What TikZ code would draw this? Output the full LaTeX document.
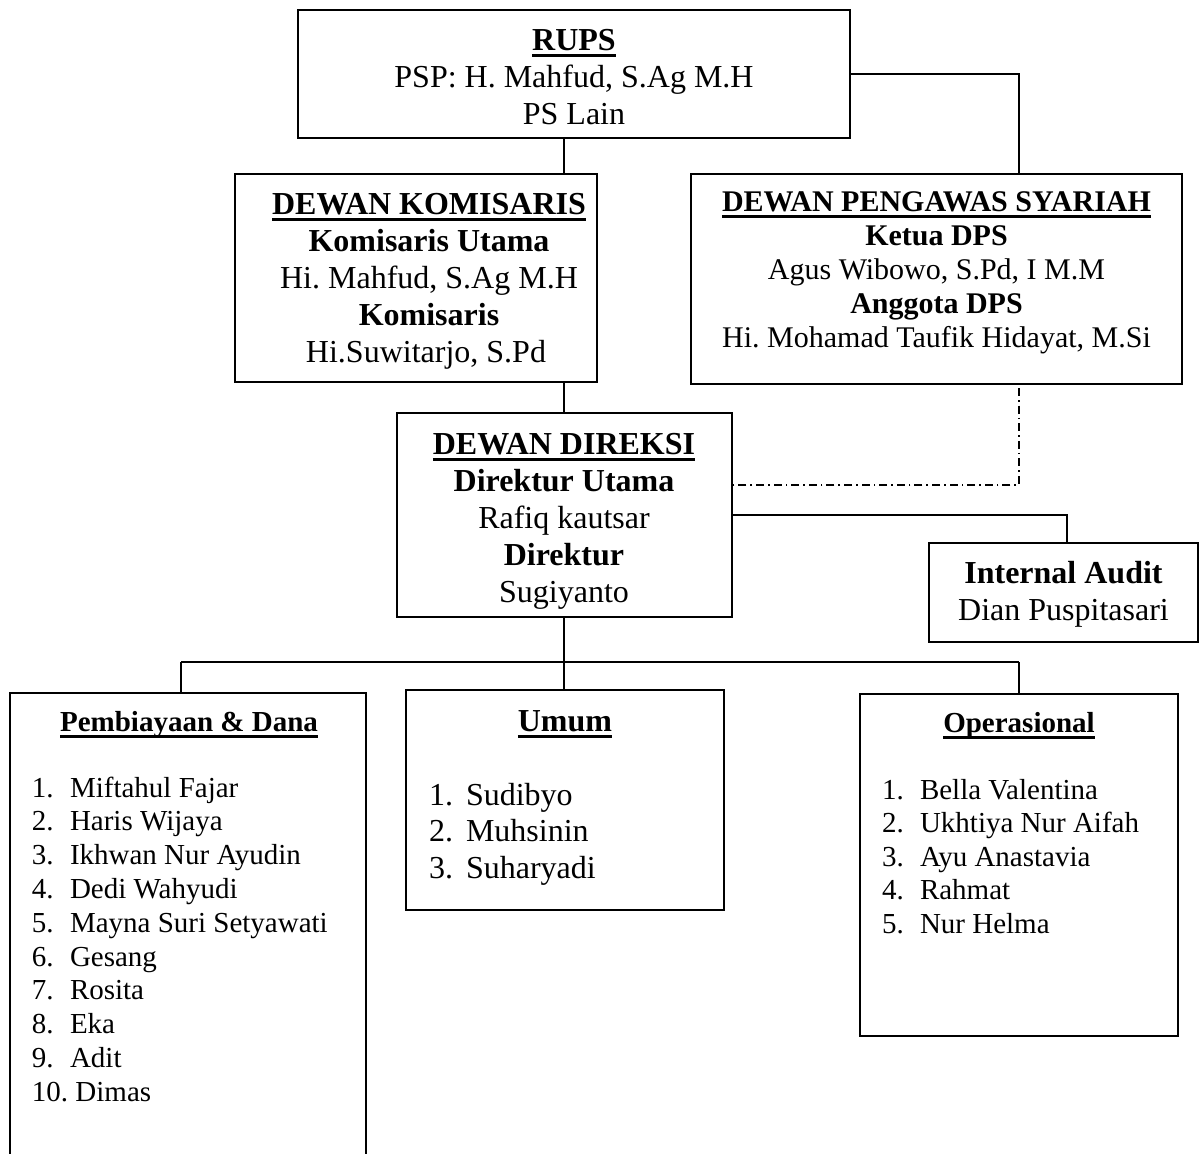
\documentclass[tikz,border=0pt]{standalone}
\usepackage{fontspec}
\setmainfont{Liberation Serif}
\frenchspacing
\newsavebox\ulsave
\newcommand\ulbox[1]{\sbox\ulsave{#1}\rlap{\rule[-3.3pt]{\wd\ulsave}{1.1pt}}\usebox\ulsave}
\begin{document}
\begin{tikzpicture}[x=0.5pt,y=-0.5pt,line width=1pt,
  box/.style={draw,inner sep=0pt,outer sep=0pt},
  openbox/.style={inner sep=0pt,outer sep=0pt},
  big/.style={anchor=base,inner sep=0pt,font=\fontsize{16}{19}\selectfont},
  small/.style={anchor=base,inner sep=0pt,font=\fontsize{15}{18}\selectfont},
  numsmall/.style={anchor=base west,inner sep=0pt,font=\fontsize{14.5}{17}\selectfont},
  numbig/.style={anchor=base west,inner sep=0pt,font=\fontsize{16}{19}\selectfont},
  dashdotline/.style={line width=0.9pt,dash pattern=on 4pt off 2pt on 0.8pt off 2pt}]
\useasboundingbox (0,0) rectangle (1200,1153);

% boxes
\node[box,minimum width=276pt,minimum height=64pt] (rups) at (574,74) {};
\node[box,minimum width=181pt,minimum height=104pt] (dk) at (416,278) {};
\node[box,minimum width=245.5pt,minimum height=105pt] (dps) at (936.5,279) {};
\node[box,minimum width=167.5pt,minimum height=102pt] (dd) at (564,515) {};
\node[box,minimum width=134.5pt,minimum height=49.5pt] (ia) at (1063.5,592.5) {};
\node[openbox,minimum width=178pt,minimum height=233.5pt] (pemb) at (188,926.5) {};
\draw (pemb.south west) -- (pemb.north west) -- (pemb.north east) -- (pemb.south east);
\node[box,minimum width=159pt,minimum height=110pt] (umum) at (564.5,800) {};
\node[box,minimum width=159pt,minimum height=171pt] (ops) at (1019,865) {};

% connectors
\draw (rups.south -| dd.north) -- (dk.north -| dd.north);
\draw (rups.east) -| (dps.north -| ops.north);
\draw (dk.south -| dd.north) -- (dd.north);
\draw[dashdotline] ([yshift=-2pt]dps.south -| ops.north) |- ([yshift=15pt]dd.east);
\draw (dd.east) -| ([xshift=1.5pt]ia.north);
\coordinate (busl) at (181,662);
\coordinate (busr) at (1019,662);
\draw (dd.south) -- (dd.south |- umum.north);
\draw (busl) -- (busr);
\draw (busl) -- (busl |- pemb.north);
\draw (busr) -- (ops.north);

% RUPS text
\node[big] (rups1) at (574,50) {\bfseries\ulbox{RUPS}};
\node[big] (rups2) at (574,87) {PSP: H. Mahfud, S.Ag M.H};
\node[big] (rups3) at (574,124) {PS Lain};

% Dewan Komisaris text
\node[big] (dk1) at (429,214) {\bfseries\ulbox{DEWAN KOMISARIS}};
\node[big] (dk2) at (429,251) {\bfseries Komisaris Utama};
\node[big] (dk3) at (429,288) {Hi. Mahfud, S.Ag M.H};
\node[big] (dk4) at (429,325) {\bfseries Komisaris};
\node[big] (dk5) at (426,362) {Hi.Suwitarjo, S.Pd};

% DPS text
\node[small] (dps1) at (936.5,211) {\bfseries\ulbox{DEWAN PENGAWAS SYARIAH}};
\node[small] (dps2) at (936.5,245) {\bfseries Ketua DPS};
\node[small] (dps3) at (936.5,279) {Agus Wibowo, S.Pd, I M.M};
\node[small] (dps4) at (936.5,313) {\bfseries Anggota DPS};
\node[small] (dps5) at (936.5,347) {Hi. Mohamad Taufik Hidayat, M.Si};

% Dewan Direksi text
\node[big] (dd1) at (564,454) {\bfseries\ulbox{DEWAN DIREKSI}};
\node[big] (dd2) at (564,491) {\bfseries Direktur Utama};
\node[big] (dd3) at (564,528) {Rafiq kautsar};
\node[big] (dd4) at (564,565) {\bfseries Direktur};
\node[big] (dd5) at (564,602) {Sugiyanto};

% Internal Audit text
\node[big] (ia1) at (1063.5,583) {\bfseries Internal Audit};
\node[big] (ia2) at (1063.5,620) {Dian Puspitasari};

% Pembiayaan & Dana
\node[small,font=\fontsize{14.5}{17}\selectfont] (pembt) at (189,731) {\bfseries\ulbox{Pembiayaan \& Dana}};
\foreach \n [count=\i] in {Miftahul Fajar,Haris Wijaya,Ikhwan Nur Ayudin,Dedi Wahyudi,Mayna Suri Setyawati,Gesang,Rosita,Eka,Adit}{
  \node[numsmall] (pn\i) at (31,{797+33.8*(\i-1)}) {\i.};
  \node[numsmall] (pt\i) at (69,{797+33.8*(\i-1)}) {\n};
}
\node[numsmall] (pn10) at (31,{797+33.8*9}) {10. Dimas};

% Umum
\node[big] (umumt) at (565,731) {\bfseries\ulbox{Umum}};
\foreach \n [count=\i] in {Sudibyo,Muhsinin,Suharyadi}{
  \node[numbig] (un\i) at (428,{805+36.5*(\i-1)}) {\i.};
  \node[numbig] (ut\i) at (465,{805+36.5*(\i-1)}) {\n};
}

% Operasional
\node[small,font=\fontsize{14.5}{17}\selectfont] (opst) at (1019,732) {\bfseries\ulbox{Operasional}};
\foreach \n [count=\i] in {Bella Valentina,Ukhtiya Nur Aifah,Ayu Anastavia,Rahmat,Nur Helma}{
  \node[numsmall] (on\i) at (881,{799+33.6*(\i-1)}) {\i.};
  \node[numsmall] (ot\i) at (919,{799+33.6*(\i-1)}) {\n};
}
\end{tikzpicture}
\end{document}
